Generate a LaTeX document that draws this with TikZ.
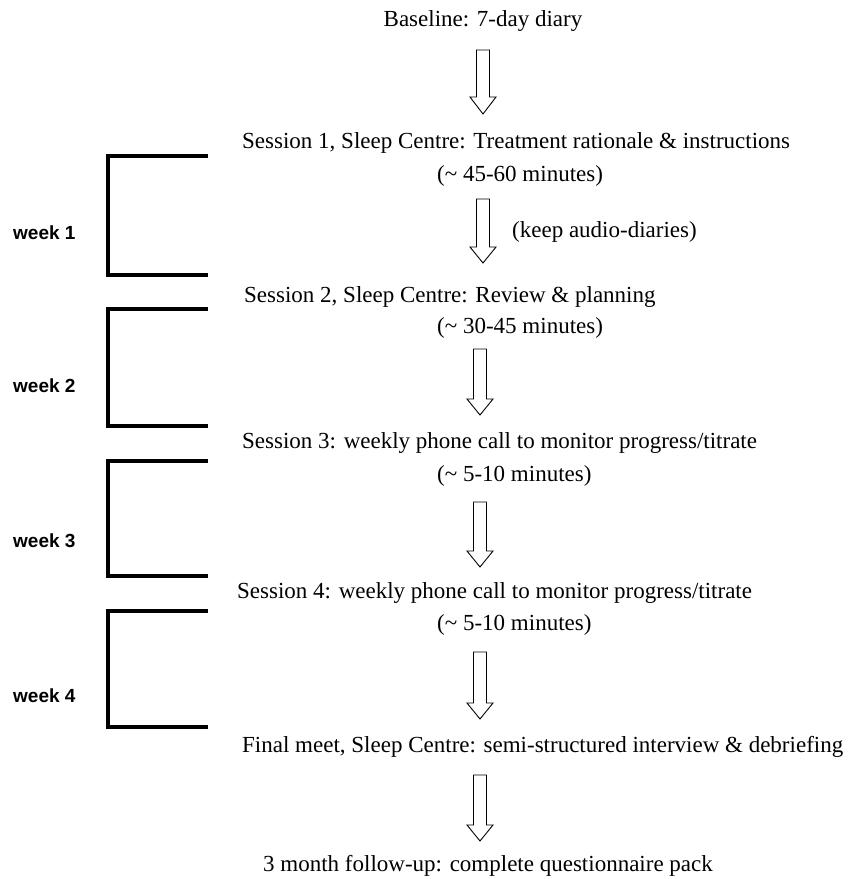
\documentclass[tikz,border=0pt]{standalone}
\usepackage{fontspec}
\setmainfont{Liberation Serif}
\newfontfamily\weekfont{Liberation Sans}
\newcommand\blkarrow[4]{% x, top, headtop, tip
  \draw[arrowline] (#1-6.5,#2) -- (#1+6.5,#2) -- (#1+6.5,#3) -- (#1+13,#3) -- (#1,#4)
    -- (#1-13,#3) -- (#1-6.5,#3) -- cycle;}
\begin{document}
\begin{tikzpicture}[x=1pt,y=-1pt,
  txt/.style={anchor=base west,inner sep=0pt,font=\fontsize{23}{27}\selectfont},
  ctxt/.style={txt,anchor=base},
  wk/.style={anchor=base west,inner sep=0pt,font=\weekfont\bfseries\fontsize{19}{22}\selectfont},
  bracket/.style={line width=4pt,line join=miter,line cap=butt},
  arrowline/.style={line width=0.9pt,line join=miter}]
\useasboundingbox (0,0) rectangle (848,879);
\node[ctxt] (base) at (483,26) {Baseline: 7-day diary};
\blkarrow{483}{50}{97}{114}
\node[txt] (s1) at (242,148) {Session 1, Sleep Centre: Treatment rationale \& instructions};
\node[txt] (s1t) at (437,181) {(\textasciitilde{} 45-60 minutes)};
\blkarrow{483}{199}{247}{263}
\node[txt] (keep) at (512,237) {(keep audio-diaries)};
\node[txt] (s2) at (244,302) {Session 2, Sleep Centre: Review \& planning};
\node[txt] (s2t) at (437,333) {(\textasciitilde{} 30-45 minutes)};
\blkarrow{480}{349}{399}{415}
\node[txt] (s3) at (242,448) {Session 3: weekly phone call to monitor progress/titrate};
\node[txt] (s3t) at (437,481) {(\textasciitilde{} 5-10 minutes)};
\blkarrow{480}{502}{551}{567}
\node[txt] (s4) at (237,598) {Session 4: weekly phone call to monitor progress/titrate};
\node[txt] (s4t) at (437,630) {(\textasciitilde{} 5-10 minutes)};
\blkarrow{480}{652}{703}{719}
\node[txt] (fin) at (242,752) {Final meet, Sleep Centre: semi-structured interview \& debriefing};
\blkarrow{480}{775}{825}{841}
\node[txt] (fu) at (263,871) {3 month follow-up: complete questionnaire pack};
\draw[bracket] (208,156) -- (108,156) -- (108,275) -- (208,275);
\draw[bracket] (208,309) -- (108,309) -- (108,426) -- (208,426);
\draw[bracket] (208,461) -- (108,461) -- (108,576) -- (208,576);
\draw[bracket] (208,611) -- (108,611) -- (108,727) -- (208,727);
\node[wk] (w1) at (13,239) {week 1};
\node[wk] (w2) at (13,392) {week 2};
\node[wk] (w3) at (13,547) {week 3};
\node[wk] (w4) at (13,702) {week 4};
\end{tikzpicture}
\end{document}
